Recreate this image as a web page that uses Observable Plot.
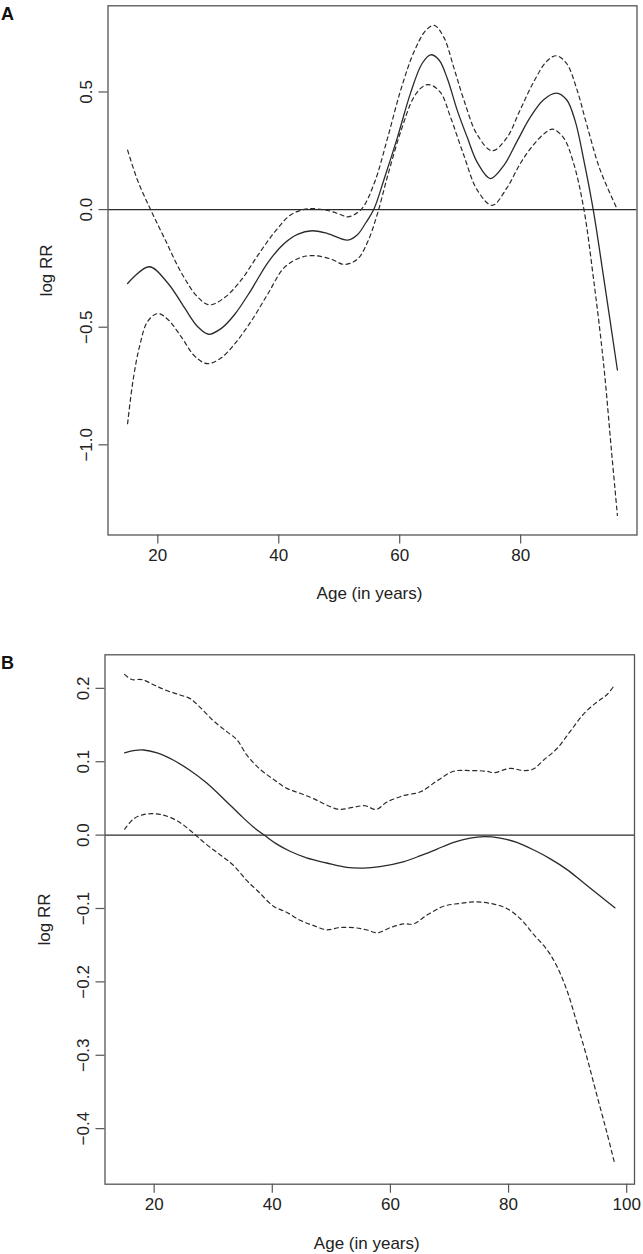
<!DOCTYPE html>
<html><head><meta charset="utf-8">
<script src="https://cdn.jsdelivr.net/npm/d3@7"></script>
<script src="https://cdn.jsdelivr.net/npm/@observablehq/plot@0.6"></script>
<style>
body{margin:0;background:#fff;font-family:"Liberation Sans",Arial,sans-serif;}
#wrap{position:relative;width:643px;height:1254px;overflow:hidden;}
.panel{position:absolute;left:0;}
.tag{position:absolute;left:1px;font-weight:bold;font-size:18px;line-height:18px;color:#111;font-family:"Liberation Sans",Arial,sans-serif;}
</style></head><body>
<div id="wrap">
<div id="pa" class="panel" style="top:0px"></div>
<div id="pb" class="panel" style="top:630px"></div>
<div class="tag" style="top:5px">A</div>
<div class="tag" style="top:654px">B</div>
</div>
<script>
// ---------- Panel A data ----------
const ageFitA = [15, 18.6, 21.7, 24.4, 26.6, 28.4, 30.5, 32.7, 35.4, 38.2, 40.9, 43.1, 45.5, 48.1, 51.4, 53.0, 54.4, 55.7, 57.4, 59.6, 61.8, 63.7, 65.1, 66.5, 67.9, 69.5, 71.2, 72.8, 75.0, 77.2, 79.4, 81.6, 83.8, 85.9, 87.6, 89.0, 90.4, 92.0, 93.7, 96.0];
const fitA = [-0.314, -0.243, -0.314, -0.417, -0.498, -0.530, -0.505, -0.446, -0.343, -0.225, -0.144, -0.105, -0.090, -0.102, -0.130, -0.107, -0.056, 0.0, 0.128, 0.305, 0.496, 0.621, 0.658, 0.636, 0.555, 0.423, 0.305, 0.202, 0.132, 0.187, 0.290, 0.393, 0.467, 0.495, 0.467, 0.378, 0.216, 0.0, -0.284, -0.682];
const ageUpA = [15, 16.7, 18.8, 21.1, 23.9, 26.6, 28.5, 31.0, 33.8, 36.5, 39.3, 42.0, 44.8, 48.1, 50.3, 51.4, 53.6, 55.8, 58.0, 60.2, 62.4, 64.3, 65.7, 67.3, 69.0, 70.6, 72.8, 75.3, 77.7, 79.9, 82.1, 84.3, 85.9, 87.6, 89.3, 90.9, 93.1, 96.0];
const upA = [0.253, 0.121, 0.0, -0.122, -0.269, -0.372, -0.405, -0.375, -0.299, -0.196, -0.096, -0.022, 0.003, -0.004, -0.022, -0.031, 0.0, 0.113, 0.305, 0.511, 0.673, 0.761, 0.783, 0.732, 0.599, 0.467, 0.319, 0.250, 0.305, 0.423, 0.540, 0.630, 0.654, 0.621, 0.511, 0.364, 0.172, 0.0];
const ageLoA = [15, 15.9, 17.0, 18.3, 20.0, 21.7, 23.9, 26.1, 28.2, 30.5, 32.7, 35.4, 38.2, 40.9, 43.7, 45.9, 48.7, 50.8, 53.0, 54.7, 56.3, 58.0, 60.2, 62.4, 64.0, 65.1, 66.8, 68.4, 70.6, 72.8, 75.3, 77.7, 79.9, 82.1, 84.1, 85.3, 87.1, 88.7, 90.4, 92.0, 93.7, 95.0, 96.0];
const loA = [-0.910, -0.726, -0.579, -0.476, -0.442, -0.468, -0.542, -0.623, -0.655, -0.630, -0.571, -0.476, -0.358, -0.247, -0.203, -0.196, -0.211, -0.233, -0.211, -0.137, -0.019, 0.143, 0.334, 0.481, 0.526, 0.530, 0.496, 0.393, 0.231, 0.084, 0.018, 0.091, 0.194, 0.275, 0.327, 0.342, 0.305, 0.202, 0.010, -0.284, -0.652, -1.020, -1.300];
const xTicksA = [20, 40, 60, 80];
const yTicksA = [-1.0, -0.5, 0.0, 0.5];

// ---------- Panel B data ----------
const ageFitB = [15, 16.5, 18.2, 20.5, 23.3, 26.1, 28.9, 31.7, 34.5, 36.8, 38.8, 40.7, 43.0, 45.8, 49.2, 52.6, 55.4, 58.2, 62.3, 65.1, 67.9, 70.7, 73.5, 75.8, 78.6, 81.4, 84.2, 87.0, 89.9, 92.7, 95.5, 98.0];
const fitB = [0.112, 0.115, 0.116, 0.112, 0.102, 0.088, 0.071, 0.050, 0.028, 0.011, -0.001, -0.012, -0.022, -0.031, -0.038, -0.044, -0.045, -0.043, -0.036, -0.028, -0.019, -0.010, -0.004, -0.002, -0.004, -0.010, -0.020, -0.032, -0.047, -0.065, -0.083, -0.099];
const ageUpB = [15, 16.2, 17.9, 19.9, 22.1, 24.4, 26.1, 27.8, 30.0, 32.3, 34.0, 35.7, 37.9, 40.2, 42.4, 44.7, 46.9, 49.2, 51.4, 53.7, 55.7, 57.6, 59.4, 62.3, 65.1, 67.9, 70.7, 73.5, 76.3, 77.5, 80.3, 82.5, 84.2, 85.9, 88.2, 90.4, 92.7, 94.9, 96.6, 98.0];
const upB = [0.219, 0.212, 0.212, 0.205, 0.197, 0.191, 0.186, 0.174, 0.156, 0.141, 0.130, 0.109, 0.090, 0.076, 0.064, 0.057, 0.050, 0.041, 0.035, 0.038, 0.040, 0.035, 0.045, 0.054, 0.059, 0.074, 0.087, 0.088, 0.087, 0.085, 0.091, 0.088, 0.090, 0.102, 0.118, 0.141, 0.165, 0.181, 0.191, 0.205];
const ageLoB = [15, 16.5, 18.2, 20.2, 22.1, 24.4, 26.6, 28.9, 31.2, 33.4, 35.7, 37.9, 40.2, 42.4, 44.7, 46.9, 49.2, 51.4, 53.7, 55.9, 57.8, 60.0, 62.3, 63.9, 66.2, 69.0, 71.8, 74.6, 77.5, 79.7, 82.0, 84.2, 86.5, 88.2, 89.9, 91.5, 93.2, 94.9, 96.6, 98.0];
const loB = [0.008, 0.022, 0.028, 0.029, 0.026, 0.017, 0.003, -0.013, -0.027, -0.041, -0.062, -0.079, -0.097, -0.105, -0.116, -0.123, -0.129, -0.126, -0.126, -0.129, -0.133, -0.126, -0.121, -0.121, -0.109, -0.097, -0.093, -0.091, -0.094, -0.100, -0.114, -0.135, -0.156, -0.179, -0.212, -0.254, -0.301, -0.353, -0.404, -0.449];
const xTicksB = [20, 40, 60, 80, 100];
const yTicksB = [-0.4, -0.3, -0.2, -0.1, 0.0, 0.1, 0.2];

const xLabel = "Age (in years)";
const yLabel = "log RR";

const FONT = '"Liberation Sans", Arial, sans-serif';
const LINE = "#2a2a2a";
const FRAME = "#555";
const TXT = "#222";

function pts(ages, vals) { return ages.map((a, i) => ({age: a, v: vals[i]})); }

// R-style 4% padding on data range
function pad(arrs) {
  const all = arrs.flat();
  const lo = d3.min(all), hi = d3.max(all), r = hi - lo;
  return [lo - 0.04 * r, hi + 0.04 * r];
}

function panel(cfg) {
  const fmt = d3.format(".1f");
  return Plot.plot({
    width: 643,
    height: cfg.height,
    marginTop: cfg.mt, marginBottom: cfg.mb, marginLeft: cfg.ml, marginRight: cfg.mr,
    style: {fontFamily: FONT, fontSize: "17px", color: TXT, background: "#fff", overflow: "visible"},
    x: {domain: pad([cfg.ages]), axis: null},
    y: {domain: pad([cfg.vals]), axis: null},
    marks: [
      Plot.ruleY([0], {stroke: LINE, strokeWidth: 1.2}),
      Plot.line(pts(cfg.fitX, cfg.fitY), {x: "age", y: "v", stroke: LINE, strokeWidth: 1.3, curve: "catmull-rom"}),
      Plot.line(pts(cfg.upX, cfg.upY), {x: "age", y: "v", stroke: LINE, strokeWidth: 1.2, strokeDasharray: "4,3.5", curve: "catmull-rom"}),
      Plot.line(pts(cfg.loX, cfg.loY), {x: "age", y: "v", stroke: LINE, strokeWidth: 1.2, strokeDasharray: "4,3.5", curve: "catmull-rom"}),
      Plot.frame({stroke: FRAME, strokeWidth: 1.3}),
      Plot.axisX(cfg.xTicks, {anchor: "bottom", tickSize: 9, tickPadding: 5, fontSize: 17, stroke: FRAME, strokeWidth: 1.2, label: null, tickFormat: d => String(d), fill: TXT}),
      Plot.axisY(cfg.yTicks, {anchor: "left", tickSize: 9, tickFormat: () => "", label: null, stroke: FRAME, strokeWidth: 1.2}),
      Plot.text(cfg.yTicks, {y: d => d, frameAnchor: "left", dx: -21.5, rotate: -90, text: d => fmt(d), textAnchor: "middle", lineAnchor: "middle", fontSize: 17, fill: TXT}),
      Plot.text([yLabel], {frameAnchor: "left", dx: cfg.ylabDx, rotate: -90, text: d => d, textAnchor: "middle", lineAnchor: "middle", fontSize: 17, fill: TXT}),
      Plot.text([xLabel], {frameAnchor: "bottom", dy: cfg.xlabDy, dx: -3, text: d => d, textAnchor: "middle", lineAnchor: "middle", fontSize: 17, fill: TXT})
    ]
  });
}

const A = panel({
  height: 630, mt: 5.3, mb: 95.5, ml: 107.5, mr: 6.5,
  ages: [...ageFitA, ...ageUpA, ...ageLoA], vals: [...fitA, ...upA, ...loA],
  fitX: ageFitA, fitY: fitA, upX: ageUpA, upY: upA, loX: ageLoA, loY: loA,
  xTicks: xTicksA, yTicks: yTicksA, ylabDx: -61, xlabDy: 59
});
document.getElementById("pa").appendChild(A);

const B = panel({
  height: 624, mt: 24.3, mb: 70.3, ml: 104.5, mr: 9,
  ages: [...ageFitB, ...ageUpB, ...ageLoB], vals: [...fitB, ...upB, ...loB],
  fitX: ageFitB, fitY: fitB, upX: ageUpB, upY: upB, loX: ageLoB, loY: loB,
  xTicks: xTicksB, yTicks: yTicksB, ylabDx: -60, xlabDy: 59
});
document.getElementById("pb").appendChild(B);
</script>
</body></html>
